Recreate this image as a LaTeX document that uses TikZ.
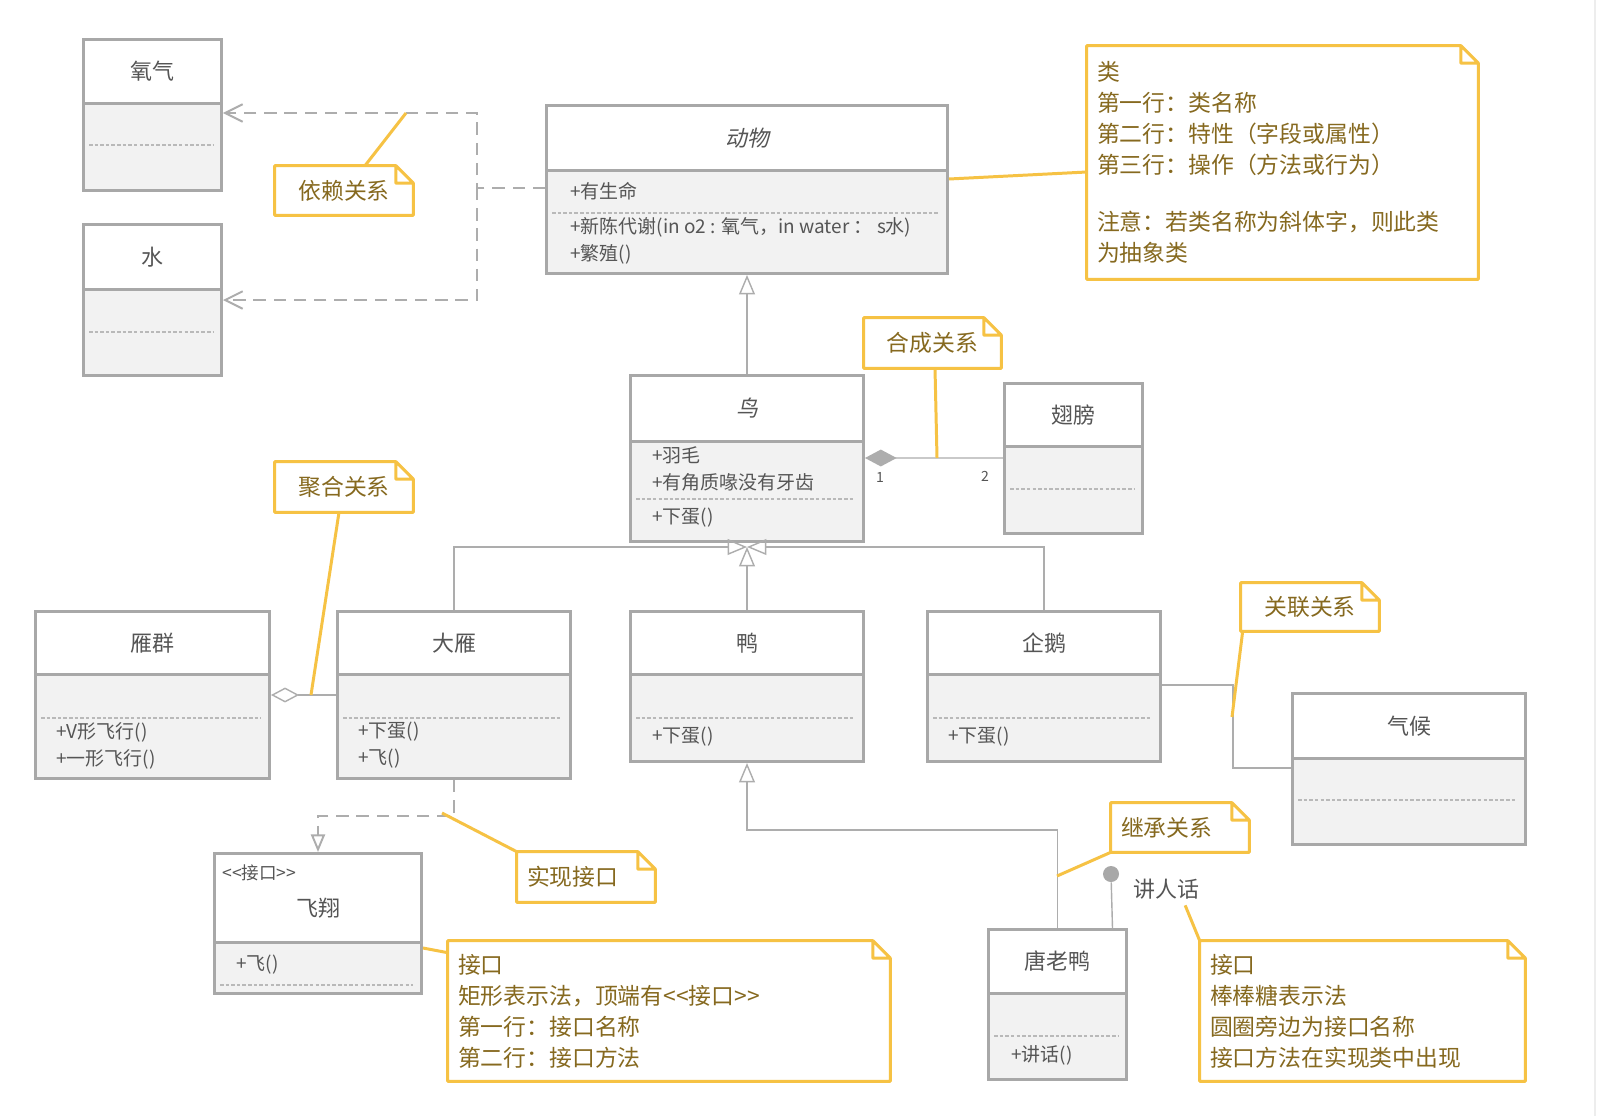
\documentclass[tikz,border=0pt]{standalone}
\usepackage{fontspec}
\setmainfont{Noto Sans CJK SC}
\newfontfamily\slantfont[FakeSlant=0.2]{Noto Sans CJK SC}
\usetikzlibrary{arrows.meta, positioning}

\definecolor{umlgray}{HTML}{A8A8A8}
\definecolor{umlfill}{HTML}{F2F2F2}
\definecolor{umltext}{HTML}{555555}
\definecolor{linkgray}{HTML}{ADADAD}
\definecolor{notegold}{HTML}{F6C244}
\definecolor{notetext}{HTML}{86691F}

\tikzset{
    classhead/.style={draw=umlgray, fill=white, line width=1.7pt, anchor=north west, inner sep=0pt, text=umltext, font=\fontsize{12.5}{15}\selectfont},
    classbody/.style={draw=umlgray, fill=umlfill, line width=1.7pt, anchor=north west, inner sep=0pt},
    member/.style={anchor=west, inner sep=0pt, align=left, text=umltext, font=\fontsize{10.8}{15.3}\selectfont},
    separator/.style={draw=umlgray!80, line width=0.7pt, dash pattern=on 2pt off 1.2pt},
    notebox/.style={inner xsep=0.2cm, inner ysep=0pt, text=notetext, font=\fontsize{13}{17.6}\selectfont},
    noteline/.style={draw=notegold, line width=1.7pt, line join=round},
    leader/.style={draw=notegold, line width=1.7pt},
    link/.style={draw=linkgray, line width=0.8pt},
    mult/.style={text=umltext, inner sep=0pt, font=\fontsize{8}{10}\selectfont},
    gen/.style={link, -{Triangle[open, length=11pt, width=9pt]}},
    dep/.style={draw=linkgray, line width=1.1pt, dash pattern=on 7pt off 4.5pt, -{Straight Barb[length=10pt, width=10pt]}},
    real/.style={draw=linkgray, line width=1.1pt, dash pattern=on 7pt off 4.5pt, -{Triangle[open, length=10pt, width=8pt]}}
}

\begin{document}
\begin{tikzpicture}[x=0.02cm, y=-0.02cm]
    \useasboundingbox (0,0) rectangle (1604,1116);
    \fill[white] (0,0) rectangle (1604,1116);
    \draw[draw=black!7, line width=1.2pt] (1595,0) -- (1595,1116);

    % Classes
    \foreach \n/\xa/\ya/\xb/\yd/\yb/\ys/\cname in {
        oxygen/82/38/220/102/189/145/氧气,
        water/82/223/220/288/374/332/水,
        animal/545/104/946/169/272/213/{\slantfont 动物},
        bird/629/374/862/440/540/499/{\slantfont 鸟},
        wing/1003/382/1141/445/532/489/翅膀,
        flock/34/610/268/673/777/718/雁群,
        goose/336/610/569/673/777/718/大雁,
        duck/629/610/862/673/760/718/鸭,
        penguin/926/610/1159/673/760/718/企鹅,
        climate/1291/692/1524/757/843/800/气候,
        fly/213/852/420/941/992/985/{},
        donald/987/928/1125/992/1078/1036/唐老鸭}
    {
        \node[classhead, minimum width={(\xb-\xa)*0.02cm}, minimum height={(\yd-\ya)*0.02cm}] (\n-head) at (\xa,\ya) {\cname};
        \node[classbody, minimum width={(\xb-\xa)*0.02cm}, minimum height={(\yb-\yd)*0.02cm}] (\n) at (\xa,\yd) {};
        \draw[separator] (\xa+7,\ys) -- (\xb-7,\ys);
    }

    % Interface header
    \node[member, font=\fontsize{10}{12}\selectfont] (fly-tag) at (222,873) {<\kern0pt<接口>\kern0pt>};
    \node[text=umltext, font=\fontsize{12.5}{15}\selectfont] (fly-name) at (318,908) {飞翔};

    % Members
    \node[member] (animal-attr) at (570,191) {+有生命};
    \node[member] (animal-ops) at (570,240.5) {+新陈代谢(in o2 : 氧气，in water ：\ s水)\\+繁殖()};
    \node[member] (bird-attr) at (652,468.5) {+羽毛\\+有角质喙没有牙齿};
    \node[member] (bird-ops) at (652,518) {+下蛋()};
    \node[member] (flock-ops) at (56,745.5) {+V形飞行()\\+一形飞行()};
    \node[member] (goose-ops) at (358,745.5) {+下蛋()\\+飞()};
    \node[member] (duck-ops) at (652,737) {+下蛋()};
    \node[member] (penguin-ops) at (948,737) {+下蛋()};
    \node[member] (fly-ops) at (236,965) {+飞()};
    \node[member] (donald-ops) at (1011,1055) {+讲话()};

    % Dependency
    \coordinate (dep-split) at (477,188);
    \draw[dep] (animal.west |- dep-split) -- (dep-split) |- ([yshift=-0.22cm]oxygen.north east);
    \draw[dep] (dep-split) |- ([yshift=-0.24cm]water.north east);

    % Generalization
    \draw[gen] (bird-head.north) -- (animal.south);
    \coordinate (bird-foot) at ([yshift=-0.08cm]bird.south);
    \draw[gen] (goose-head.north) |- (bird-foot);
    \draw[gen] (penguin-head.north) |- (bird-foot);
    \draw[gen] (duck-head.north) -- (bird-foot);
    \draw[gen] (donald-head.north) -- ++(0,-98) -| (duck.south);

    % Composition
    \draw[link, {Diamond[length=18pt, width=9.6pt]}-] ([yshift=-0.36cm]bird.north east) -- ([yshift=-0.26cm]wing.north west);
    \node[mult] (comp-one) at (880,477) {1};
    \node[mult] (comp-two) at (985,476) {2};

    % Aggregation
    \draw[link, {Diamond[fill=white, length=16pt, width=8.5pt]}-] ([yshift=-0.44cm]flock.north east) -- ([yshift=-0.44cm]goose.north west);

    % Association
    \draw[link] ([yshift=-0.24cm]penguin.north east) -- ++(71,0) |- ([yshift=-0.22cm]climate.north west);

    % Realization
    \draw[real] (goose.south) -- ++(0,36) -| (fly-head.north);

    % Lollipop
    \node[circle, fill=umlgray, inner sep=0pt, minimum size=0.32cm] (talk-dot) at (1111,874) {};
    \draw[link] ([xshift=1.1cm]donald-head.north) -- (talk-dot);
    \node[text=umltext, font=\fontsize{12.5}{15}\selectfont] (talk-label) at (1166,889) {讲人话};

    % Notes
    \node[notebox, minimum width=2.76cm, minimum height=0.98cm] (dep-note) at (344,190.5) {依赖关系};
    \node[notebox, minimum width=2.74cm, minimum height=1cm] (comp-note) at (932.5,343) {合成关系};
    \node[notebox, minimum width=2.76cm, minimum height=1cm] (agg-note) at (344,487) {聚合关系};
    \node[notebox, minimum width=2.76cm, minimum height=0.96cm] (assoc-note) at (1310,607) {关联关系};
    \node[notebox, text width=2.36cm, align=left, minimum height=1cm] (real-note) at (586,877) {实现接口};
    \node[notebox, text width=2.36cm, align=left, minimum height=0.98cm] (inh-note) at (1180,827.5) {继承关系};
    \node[notebox, text width=7.42cm, align=left, minimum height=4.66cm] (class-note) at (1282.5,162.5) {类\\第一行：类名称\\第二行：特性（字段或属性）\\第三行：操作（方法或行为）\\[14.7pt]注意：若类名称为斜体字，则此类\\为抽象类};
    \node[notebox, text width=8.44cm, align=left, minimum height=2.8cm] (iface-note) at (669,1011) {接口\\矩形表示法，顶端有<\kern0pt<接口>\kern0pt>\\第一行：接口名称\\第二行：接口方法};
    \node[notebox, text width=6.1cm, align=left, minimum height=2.8cm] (lolli-note) at (1362.5,1011) {接口\\棒棒糖表示法\\圆圈旁边为接口名称\\接口方法在实现类中出现};

    \foreach \n in {dep-note, comp-note, agg-note, assoc-note, real-note, inh-note, class-note, iface-note, lolli-note}
        \draw[noteline] (\n.north west) -- ([xshift=-0.35cm]\n.north east) -- ([yshift=-0.35cm]\n.north east) -- (\n.south east) -- (\n.south west) -- cycle
            ([xshift=-0.35cm]\n.north east) |- ([yshift=-0.35cm]\n.north east);

    % Leaders
    \coordinate (dep-tip) at (406,113);
    \draw[leader] ([xshift=0.42cm]dep-note.north) -- (dep-tip);
    \draw[leader] ([yshift=-0.2cm]animal.north east) -- ([yshift=-0.19cm]class-note.west);
    \coordinate (comp-tip) at (937,458);
    \draw[leader] ([xshift=0.05cm]comp-note.south) -- (comp-tip);
    \coordinate (agg-tip) at (311,695);
    \draw[leader] ([xshift=-0.1cm]agg-note.south) -- (agg-tip);
    \coordinate (assoc-tip) at (1232,717);
    \draw[leader] ([xshift=0.04cm]assoc-note.south west) -- (assoc-tip);
    \coordinate (real-tip) at (442,813);
    \draw[leader] (real-note.north west) -- (real-tip);
    \coordinate (inh-tip) at (1057,876);
    \draw[leader] (inh-note.south west) -- (inh-tip);
    \draw[leader] ([yshift=-0.14cm]fly.north east) -- ([yshift=-0.24cm]iface-note.north west);
    \draw[leader] ([xshift=-0.4cm]talk-label.south east) -- (lolli-note.north west);
\end{tikzpicture}
\end{document}
